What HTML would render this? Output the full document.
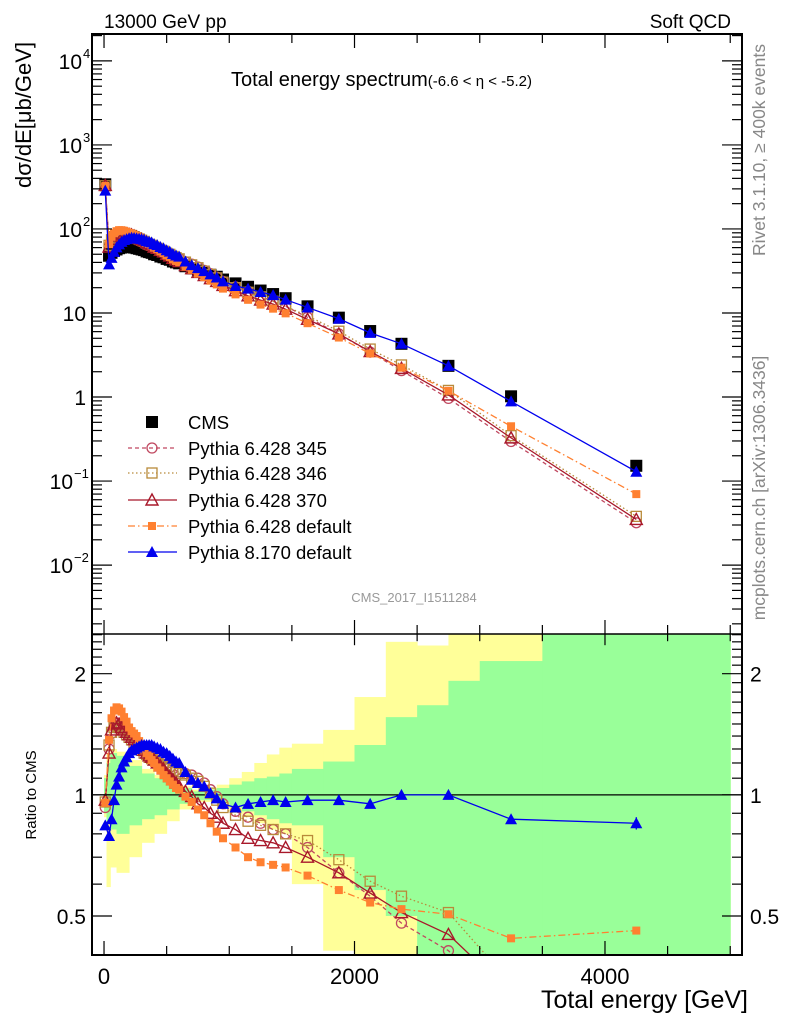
<!DOCTYPE html>
<html><head><meta charset="utf-8">
<style>
html,body{margin:0;padding:0;background:#fff;}
svg{display:block;font-family:"Liberation Sans",sans-serif;}
</style></head>
<body>
<svg id="chart" width="786" height="1024" viewBox="0 0 786 1024" xmlns="http://www.w3.org/2000/svg">
<defs>
<clipPath id="clipTop"><rect x="92" y="34" width="650" height="600"/></clipPath>
<clipPath id="clipBot"><rect x="92" y="634" width="650" height="321"/></clipPath>
</defs>
<g id="bands" clip-path="url(#clipBot)"></g>
<g id="ratioRef"></g>
<g id="seriesBot" clip-path="url(#clipBot)"></g>
<g id="seriesTop" clip-path="url(#clipTop)"></g>
<g id="axes"></g>
<text x="104" y="28" font-size="19">13000 GeV pp</text>
<text x="731" y="28" font-size="19" text-anchor="end">Soft QCD</text>
<text x="231" y="86" font-size="20">Total energy spectrum<tspan font-size="15">(-6.6 &lt; η &lt; -5.2)</tspan></text>
<text transform="translate(31,115) rotate(-90)" font-size="22" text-anchor="middle">dσ/dE[μb/GeV]</text>
<text transform="translate(765,150) rotate(-90)" font-size="17.5" fill="#888" text-anchor="middle">Rivet 3.1.10, ≥ 400k events</text>
<text transform="translate(765,488) rotate(-90)" font-size="17.5" fill="#888" text-anchor="middle">mcplots.cern.ch [arXiv:1306.3436]</text>
<text x="414" y="602" font-size="13" fill="#999" text-anchor="middle">CMS_2017_I1511284</text>
<text transform="translate(36,795) rotate(-90)" font-size="15" text-anchor="middle">Ratio to CMS</text>
<text x="748" y="1008" font-size="25" text-anchor="end">Total energy [GeV]</text>
<g id="legend"></g>
</svg>
<script>
const energies=[10,40,60,80,100,120,140,160,180,200,220,240,260,280,300,320,340,360,380,400,425,450,475,500,525,550,575,600,650,700,750,800,850,900,950,1050,1150,1250,1350,1450,1625,1875,2125,2375,2750,3250,4250];
const cmsValues=[340,48,52,55,57,59,60,61,61,61,61,60,59,58,57,56,54,53,52,50,49,47,46,44,43,41,40,39,36,34,32,30,28.5,27,25,22.5,20.5,18.5,16.8,15,12,8.8,6.1,4.3,2.35,1.02,0.152];
const ratio345=[0.93,1.30,1.42,1.48,1.50,1.49,1.47,1.45,1.42,1.40,1.38,1.36,1.34,1.32,1.30,1.28,1.27,1.25,1.24,1.23,1.21,1.20,1.19,1.18,1.17,1.16,1.15,1.14,1.13,1.12,1.10,1.07,1.03,0.99,0.95,0.91,0.88,0.85,0.82,0.80,0.74,0.64,0.56,0.48,0.41,0.29,0.21];
const ratio346=[0.96,1.33,1.43,1.47,1.48,1.47,1.45,1.43,1.41,1.39,1.37,1.35,1.33,1.31,1.29,1.27,1.26,1.24,1.23,1.22,1.20,1.19,1.18,1.17,1.16,1.15,1.14,1.13,1.12,1.10,1.08,1.05,1.01,0.97,0.93,0.89,0.86,0.84,0.82,0.80,0.77,0.69,0.61,0.56,0.51,0.34,0.25];
const ratio370=[0.97,1.27,1.45,1.50,1.51,1.50,1.47,1.45,1.43,1.41,1.39,1.37,1.35,1.33,1.31,1.29,1.27,1.25,1.24,1.22,1.20,1.18,1.16,1.13,1.11,1.09,1.07,1.05,1.02,0.99,0.95,0.93,0.90,0.88,0.85,0.82,0.78,0.77,0.76,0.74,0.70,0.64,0.57,0.51,0.45,0.32,0.23];
const ratioP6def=[0.955,1.37,1.55,1.62,1.65,1.64,1.61,1.56,1.52,1.47,1.44,1.42,1.40,1.36,1.33,1.30,1.27,1.25,1.22,1.20,1.17,1.15,1.12,1.10,1.08,1.06,1.04,1.03,0.99,0.96,0.92,0.89,0.85,0.81,0.78,0.74,0.70,0.68,0.67,0.66,0.63,0.58,0.54,0.52,0.505,0.44,0.46];
const ratioP8def=[0.84,0.79,0.87,0.97,1.06,1.11,1.17,1.21,1.24,1.27,1.29,1.30,1.31,1.32,1.33,1.33,1.33,1.33,1.33,1.32,1.31,1.30,1.28,1.27,1.25,1.23,1.21,1.20,1.14,1.09,1.07,1.05,1.01,0.98,0.95,0.93,0.95,0.96,0.97,0.96,0.97,0.97,0.95,1.0,1.0,0.87,0.85];
const bandEdges=[0,20,50,100,200,300,400,500,600,700,800,900,1000,1100,1200,1300,1400,1500,1750,2000,2250,2500,2750,3000,3500,5000];
const greenLo=[0.9,0.86,0.82,0.8,0.84,0.87,0.89,0.92,0.95,0.97,0.97,0.96,0.93,0.91,0.89,0.87,0.85,0.84,0.70,0.58,0.50,0.30,0.30,0.30,0.30];
const greenHi=[1.1,1.2,1.27,1.25,1.18,1.13,1.10,1.07,1.04,1.02,1.03,1.04,1.06,1.08,1.10,1.11,1.13,1.16,1.21,1.33,1.56,1.67,1.92,2.15,3.0];
const yellowLo=[0.88,0.59,0.66,0.64,0.70,0.76,0.80,0.86,0.92,0.96,0.96,0.94,0.90,0.88,0.85,0.82,0.80,0.60,0.41,0.38,0.38,0.30,0.30,0.30,0.30];
const yellowHi=[1.12,1.27,1.30,1.28,1.22,1.16,1.12,1.08,1.05,1.03,1.04,1.06,1.10,1.14,1.20,1.26,1.31,1.34,1.45,1.75,2.4,2.35,3.0,3.0,3.0];
const xTicksMajor=[0,2000,4000];
const yTopDecades=[-2,-1,0,1,2,3,4];
const ratioTicksMajor=[0.5,1,2];

const NS="http://www.w3.org/2000/svg";
const X0=92,X1=742,TOP0=34,TOP1=634,BOT1=955;
const xMin=-96,xMax=5094;
function xs(e){return X0+(e-xMin)/(xMax-xMin)*(X1-X0);}
const lgMax=4.32,lgMin=-2.82;
function ys(v){return TOP0+(lgMax-Math.log10(v))/(lgMax-lgMin)*(TOP1-TOP0);}
const rMax=Math.log10(2.51),rMin=Math.log10(0.40);
function yr(r){return TOP1+(rMax-Math.log10(r))/(rMax-rMin)*(BOT1-TOP1);}
function mk(tag,attrs,parent){const el=document.createElementNS(NS,tag);for(const k in attrs)el.setAttribute(k,attrs[k]);parent.appendChild(el);return el;}

const gB=document.getElementById('bands');
for(let i=0;i<bandEdges.length-1;i++){
  const x=xs(bandEdges[i]),w=xs(bandEdges[i+1])-x;
  const yb=mk('rect',{x:x,y:yr(yellowHi[i]),width:w+0.5,height:yr(yellowLo[i])-yr(yellowHi[i]),fill:'#ffff99'},gB);
  
  
}
for(let i=0;i<bandEdges.length-1;i++){
  const x=xs(bandEdges[i]),w=xs(bandEdges[i+1])-x;
  const gb=mk('rect',{x:x,y:yr(greenHi[i]),width:w+0.5,height:yr(greenLo[i])-yr(greenHi[i]),fill:'#99ff99'},gB);
  
  
}
const refl=mk('line',{x1:X0,x2:X1,y1:yr(1),y2:yr(1),stroke:'#000','stroke-width':1.3},document.getElementById('ratioRef'));



const series=[
 {name:'pythia-6428-345',label:'Pythia 6.428 345',r:ratio345,color:'#c04860',dash:'4,3',marker:'circle'},
 {name:'pythia-6428-346',label:'Pythia 6.428 346',r:ratio346,color:'#b88a3a',dash:'1.5,2.5',marker:'square'},
 {name:'pythia-6428-370',label:'Pythia 6.428 370',r:ratio370,color:'#a8182a',dash:'',marker:'triangle'},
 {name:'pythia-6428-default',label:'Pythia 6.428 default',r:ratioP6def,color:'#ff8030',dash:'7,3,1.5,3',marker:'fsquare'},
 {name:'pythia-8170-default',label:'Pythia 8.170 default',r:ratioP8def,color:'#0000ee',dash:'',marker:'ftriangle'}
];
function marker(type,x,y,color,parent,s){
  s=s||5;let el;
  if(type==='circle')el=mk('circle',{cx:x,cy:y,r:s,fill:'none',stroke:color,'stroke-width':1.3},parent);
  else if(type==='square')el=mk('rect',{x:x-s,y:y-s,width:2*s,height:2*s,fill:'none',stroke:color,'stroke-width':1.3},parent);
  else if(type==='fsquare')el=mk('rect',{x:x-4,y:y-4,width:8,height:8,fill:color},parent);
  else if(type==='cms')el=mk('rect',{x:x-6,y:y-6,width:12,height:12,fill:'#000'},parent);
  else if(type==='triangle')el=mk('polygon',{points:`${x},${y-s-1} ${x-s-1},${y+s} ${x+s+1},${y+s}`,fill:'none',stroke:color,'stroke-width':1.4},parent);
  else el=mk('polygon',{points:`${x},${y-s-1} ${x-s-1},${y+s} ${x+s+1},${y+s}`,fill:color},parent);
  return el;
}
const gT=document.getElementById('seriesTop'),gR=document.getElementById('seriesBot');
cmsValues.forEach((v,i)=>{const m=marker('cms',xs(energies[i]),ys(v),'#000',gT);
 
 });
series.forEach(s=>{
  const gt=mk('g',{},gT);
  
  
  const gr=mk('g',{},gR);
  
  
  const ptsT=energies.map((e,i)=>xs(e)+','+ys(cmsValues[i]*s.r[i])).join(' ');
  const ptsR=energies.map((e,i)=>xs(e)+','+yr(s.r[i])).join(' ');
  mk('polyline',{points:ptsT,fill:'none',stroke:s.color,'stroke-width':1.3,'stroke-dasharray':s.dash},gt);
  mk('polyline',{points:ptsR,fill:'none',stroke:s.color,'stroke-width':1.3,'stroke-dasharray':s.dash},gr);
  energies.forEach((e,i)=>{
    const a=marker(s.marker,xs(e),ys(cmsValues[i]*s.r[i]),s.color,gt);
    
    
    const b=marker(s.marker,xs(e),yr(s.r[i]),s.color,gr);
    
    
  });
});
mk('line',{x1:xs(4250),x2:xs(4250),y1:yr(0.82),y2:yr(0.88),stroke:'#0000ee','stroke-width':1.3},gR);

const gA=document.getElementById('axes');
mk('rect',{x:X0,y:TOP0,width:X1-X0,height:BOT1-TOP0,fill:'none',stroke:'#000','stroke-width':2},gA);
mk('line',{x1:X0,x2:X1,y1:TOP1,y2:TOP1,stroke:'#000','stroke-width':1.5},gA);
for(let e=0;e<=5000;e+=500){
  const x=xs(e),big=(e%2000===0)?14:9;
  [[TOP0,TOP0+big],[TOP1,TOP1-big],[TOP1,TOP1+big*0.8],[BOT1,BOT1-big]].forEach(p=>mk('line',{x1:x,x2:x,y1:p[0],y2:p[1],stroke:'#000','stroke-width':1.2},gA));
}
xTicksMajor.forEach(e=>{const t=mk('text',{x:xs(e),y:984,'font-size':22,'text-anchor':'middle'},gA);t.textContent=e;
 
 });
for(let d=-3;d<=4;d++){
  for(let m=1;m<10;m++){
    const v=m*Math.pow(10,d);const lg=Math.log10(v);
    if(lg<lgMin||lg>lgMax)continue;
    const y=ys(v),L=m===1?20:10;
    mk('line',{x1:X0,x2:X0+L,y1:y,y2:y,stroke:'#000','stroke-width':1.2},gA);
    mk('line',{x1:X1,x2:X1-L,y1:y,y2:y,stroke:'#000','stroke-width':1.2},gA);
  }
}
const ylab={'-2':['10','−2'],'-1':['10','−1'],'0':['1',''],'1':['10',''],'2':['10','2'],'3':['10','3'],'4':['10','4']};
yTopDecades.forEach(d=>{
  const y=ys(Math.pow(10,d));const l=ylab[String(d)];
  const t=mk('text',{x:l[1]?(d<0?73:82):86,y:y+8,'font-size':21,'text-anchor':'end'},gA);
  t.textContent=l[0];
  
  
  if(l[1]){const s=mk('text',{x:d<0?74:83,y:y-3,'font-size':13},gA);s.textContent=l[1];}
});
const rminors=[0.4,0.5,0.6,0.7,0.8,0.9,1,1.1,1.2,1.3,1.4,1.5,1.6,1.7,1.8,1.9,2,2.1,2.2,2.3,2.4,2.5];
rminors.forEach(r=>{const y=yr(r);const L=ratioTicksMajor.includes(r)?20:10;
  mk('line',{x1:X0,x2:X0+L,y1:y,y2:y,stroke:'#000','stroke-width':1.2},gA);
  mk('line',{x1:X1,x2:X1-L,y1:y,y2:y,stroke:'#000','stroke-width':1.2},gA);});
ratioTicksMajor.forEach(r=>{
  const t=mk('text',{x:86,y:yr(r)+8,'font-size':21,'text-anchor':'end'},gA);t.textContent=r;
  
  
  const t2=mk('text',{x:750,y:yr(r)+8,'font-size':21},gA);t2.textContent=r;
  
  
});

const gL=document.getElementById('legend');
const rowsY=[422,448,473,500,526,552];
marker('cms',152,rowsY[0],'#000',gL);
const ct=mk('text',{x:188,y:rowsY[0]+7,'font-size':18.5},gL);ct.textContent='CMS';


series.forEach((s,i)=>{
  const y=rowsY[i+1];
  mk('line',{x1:128,x2:177,y1:y,y2:y,stroke:s.color,'stroke-width':1.3,'stroke-dasharray':s.dash},gL);
  marker(s.marker,152,y,s.color,gL);
  const t=mk('text',{x:188,y:y+7,'font-size':18.5},gL);t.textContent=s.label;
  
  
});
</script>
</body></html>
